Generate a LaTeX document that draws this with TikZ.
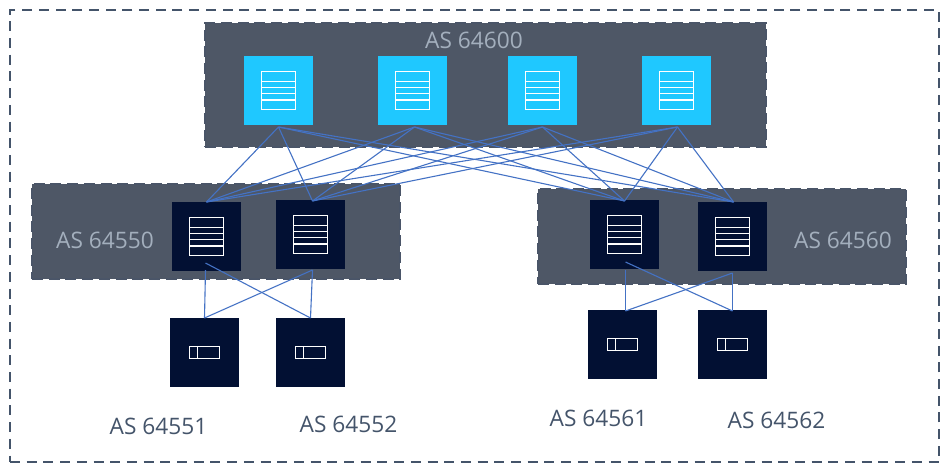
\documentclass[tikz,border=0pt]{standalone}
\usepackage{fontspec}
\usetikzlibrary{calc}
\setmainfont{Open Sans}
\definecolor{boxgray}{HTML}{4E5766}
\definecolor{boxedge}{HTML}{4A5568}
\definecolor{labelgray}{HTML}{A3AFBD}
\definecolor{cyanbox}{HTML}{1FC8FF}
\definecolor{navybox}{HTML}{021033}
\definecolor{linkblue}{HTML}{4472C4}
\definecolor{outer}{HTML}{44546A}
\definecolor{leaftext}{HTML}{44546A}
\tikzset{
  x=1pt,y=-1pt,
  asbox/.style={fill=boxgray,draw=boxedge,line width=1.5pt,dash pattern=on 11pt off 5.7pt},
  spine/.style={fill=cyanbox,minimum size=69pt,inner sep=0pt,outer sep=0pt},
  navy/.style={fill=navybox,minimum size=69pt,inner sep=0pt,outer sep=0pt},
  glyph/.style={draw=white,line width=1.9pt},
  link/.style={draw=linkblue,line width=1.1pt},
  aslabel/.style={text=labelgray,font=\fontsize{22.7}{22.7}\selectfont,inner sep=0pt},
  leaflabel/.style={text=leaftext,font=\fontsize{22.7}{22.7}\selectfont,inner sep=0pt},
}
\newcommand{\rackglyph}[1]{%
  \draw[glyph] ($(#1)+(-17,-19)$) rectangle ($(#1)+(17,19)$);
  \foreach \yy in {-9,-3,3,9.5}{\draw[glyph] ($(#1)+(-17,\yy)$) -- ($(#1)+(17,\yy)$);}
}
\newcommand{\slotglyph}[1]{%
  \draw[glyph] ($(#1)+(-15,-6)$) rectangle ($(#1)+(15,6)$);
  \draw[glyph] ($(#1)+(-7,-6)$) -- ($(#1)+(-7,6)$);
}
\begin{document}
\begin{tikzpicture}
\useasboundingbox (0,0) rectangle (950,472);
\node[draw=outer,line width=1.7pt,dash pattern=on 10pt off 6.7pt,minimum width=929pt,minimum height=452pt,inner sep=0pt,outer sep=0pt] (frame) at (474.5,236) {};
% AS boxes
\node[asbox,minimum width=561pt,minimum height=124pt,inner sep=0pt,outer sep=0pt] (top) at (485.5,85) {};
\node[asbox,minimum width=368pt,minimum height=95pt,inner sep=0pt,outer sep=0pt] (left) at (216,231.5) {};
\node[asbox,minimum width=368pt,minimum height=95pt,inner sep=0pt,outer sep=0pt] (right) at (722,236.5) {};
% labels
\node[aslabel] (ltop) at (474,40) {AS 64600};
\node[aslabel] (lleft) at (105,240) {AS 64550};
\node[aslabel] (lright) at (843,240) {AS 64560};
% spines
\node[spine] (s1) at (278.5,90.5) {};
\node[spine] (s2) at (412.5,90.5) {};
\node[spine] (s3) at (542.5,90.5) {};
\node[spine] (s4) at (676.5,90.5) {};
% leaf-level routers
\node[navy] (a1) at (206.5,236.5) {};
\node[navy] (a2) at (310.5,234.5) {};
\node[navy] (b1) at (624.5,234.5) {};
\node[navy] (b2) at (732.5,236.5) {};
% hosts
\node[navy] (h1) at (204.5,352.5) {};
\node[navy] (h2) at (310.5,352.5) {};
\node[navy] (h3) at (622.5,344.5) {};
\node[navy] (h4) at (732.5,344.5) {};
\foreach \n in {s1,s2,s3,s4,a1,a2,b1,b2}{\rackglyph{\n}}
\foreach \n in {h1,h2,h3,h4}{\slotglyph{\n}}
% connector ends
\foreach \n/\dx in {s1/0,s2/2,s3/0,s4/1}{\coordinate (\n o) at ($(\n.south)+(\dx,2)$);}
\coordinate (a1t) at ($(a1.north)+(0,0)$);
\coordinate (a2t) at ($(a2.north)+(2,1)$);
\coordinate (b1t) at ($(b1.north)+(0,1)$);
\coordinate (b2t) at ($(b2.north)+(1,0)$);
\foreach \s in {s1o,s2o,s3o,s4o}{\foreach \d in {a1t,a2t,b1t,b2t}{\draw[link] (\s) -- (\d);}}
\draw[link] ($(a1.south)+(-1,-1)$) -- ($(h1.north)+(0,0)$);
\draw[link] ($(a1.south)+(-1,-8)$) -- ($(h2.north)+(0,0)$);
\draw[link] ($(a2.south)+(2,1)$) -- ($(h1.north)+(0,0)$);
\draw[link] ($(a2.south)+(2,1)$) -- ($(h2.north)+(0,0)$);
\draw[link] ($(b1.south)+(1,1)$) -- ($(h3.north)+(3,1)$);
\draw[link] ($(b1.south)+(1,-7)$) -- ($(h4.north)+(0,1)$);
\draw[link] ($(b2.south)+(0,2)$) -- ($(h3.north)+(3,1)$);
\draw[link] ($(b2.south)+(0,2)$) -- ($(h4.north)+(0,1)$);
% host labels
\node[leaflabel] (n1) at (158.5,426) {AS 64551};
\node[leaflabel] (n2) at (348.5,424) {AS 64552};
\node[leaflabel] (n3) at (598.5,418) {AS 64561};
\node[leaflabel] (n4) at (776.5,420) {AS 64562};
\end{tikzpicture}
\end{document}
